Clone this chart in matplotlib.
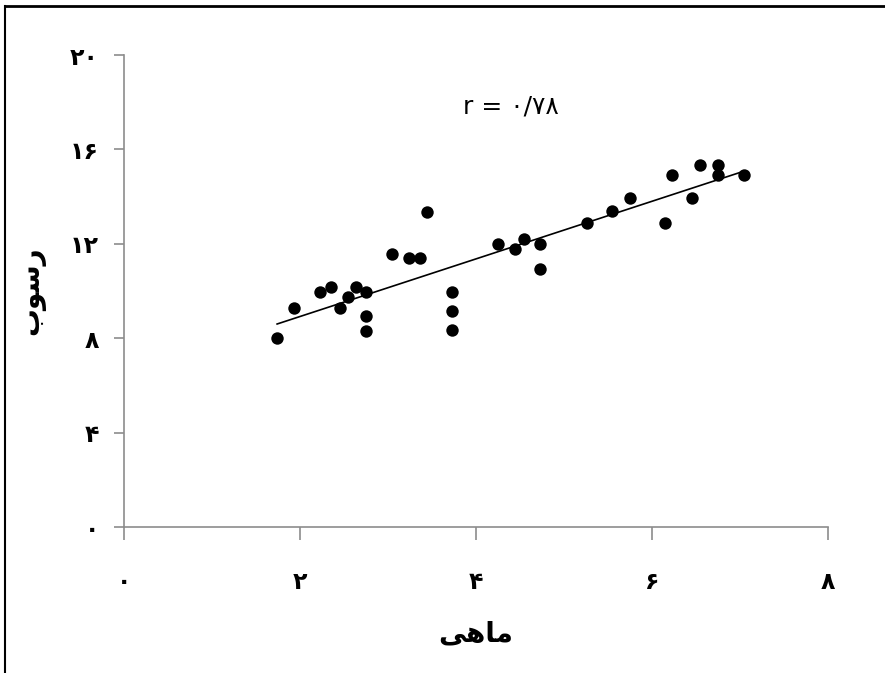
import numpy as np
import matplotlib
matplotlib.use("Agg")
import matplotlib.pyplot as plt
from matplotlib.lines import Line2D

# fish (x) vs sediment (y)
fish = [1.74, 1.93, 2.23, 2.35, 2.45, 2.54, 2.64, 2.75, 2.75, 2.75,
        3.05, 3.24, 3.36, 3.44, 3.73, 3.73, 3.73,
        4.25, 4.44, 4.55, 4.73, 4.73,
        5.26, 5.55, 5.75, 6.15, 6.23, 6.45, 6.54, 6.75, 6.75, 7.04]
sediment = [8.0, 9.3, 9.95, 10.15, 9.3, 9.75, 10.15, 9.95, 8.95, 8.3,
            11.55, 11.4, 11.4, 13.35, 9.95, 9.15, 8.35,
            12.0, 11.8, 12.2, 12.0, 10.95,
            12.9, 13.4, 13.95, 12.9, 14.9, 13.95, 15.35, 15.35, 14.9, 14.9]

x_ticks = [0, 2, 4, 6, 8]
y_ticks = [0, 4, 8, 12, 16, 20]

PERSIAN_DIGITS = "۰۱۲۳۴۵۶۷۸۹"


def fa(n):
    return "".join(PERSIAN_DIGITS[int(c)] for c in str(n))


# Arabic letters pre-shaped (presentation forms, visual order) since
# matplotlib does no Arabic shaping
xlabel = "\uFEF0\uFEEB\uFE8E\uFEE3"   # ماهی
ylabel = "\uFE8F\uFEEE\uFEB3\uFEAD"   # رسوب
r_text = "r = " + "۰/۷۸"

plt.rcParams["font.family"] = ["DejaVu Sans"]

fig = plt.figure(figsize=(8.85, 6.73), dpi=100)
ax = fig.add_axes([0.1401, 0.2169, 0.7955, 0.7013])

ax.scatter(fish, sediment, s=80, color="black", zorder=3, linewidths=0)

coeffs = np.polyfit(fish, sediment, 1)
xs = np.array([min(fish), max(fish)])
ax.plot(xs, np.polyval(coeffs, xs), color="black", lw=1.2)

ax.set_xlim(0, 8)
ax.set_ylim(0, 20)
ax.set_xticks(x_ticks)
ax.set_yticks(y_ticks)
ax.set_xticklabels([fa(v) for v in x_ticks], fontsize=17, fontweight="bold")
ax.set_yticklabels([fa(v) for v in y_ticks], fontsize=17, fontweight="bold")

for side in ("top", "right"):
    ax.spines[side].set_visible(False)
for side in ("left", "bottom"):
    ax.spines[side].set_color("#8c8c8c")
    ax.spines[side].set_linewidth(1.2)
ax.tick_params(axis="x", length=9, width=1.2, color="#8c8c8c", pad=22)
ax.tick_params(axis="y", length=7, width=1.2, color="#8c8c8c", pad=11)

ax.set_xlabel(xlabel, fontsize=20, fontweight="bold", labelpad=18)
ax.set_ylabel(ylabel, fontsize=20, fontweight="bold", labelpad=18)

ax.text(4.4, 17.8, r_text, fontsize=18, ha="center", va="center")

# page-style frame (left and top edges)
fig.add_artist(Line2D([0.0057, 0.0057], [0, 0.991], transform=fig.transFigure,
                      color="black", lw=1.5))
fig.add_artist(Line2D([0.0057, 1.0], [0.991, 0.991], transform=fig.transFigure,
                      color="black", lw=2))

fig.savefig("out.png", dpi=100, facecolor="white")
